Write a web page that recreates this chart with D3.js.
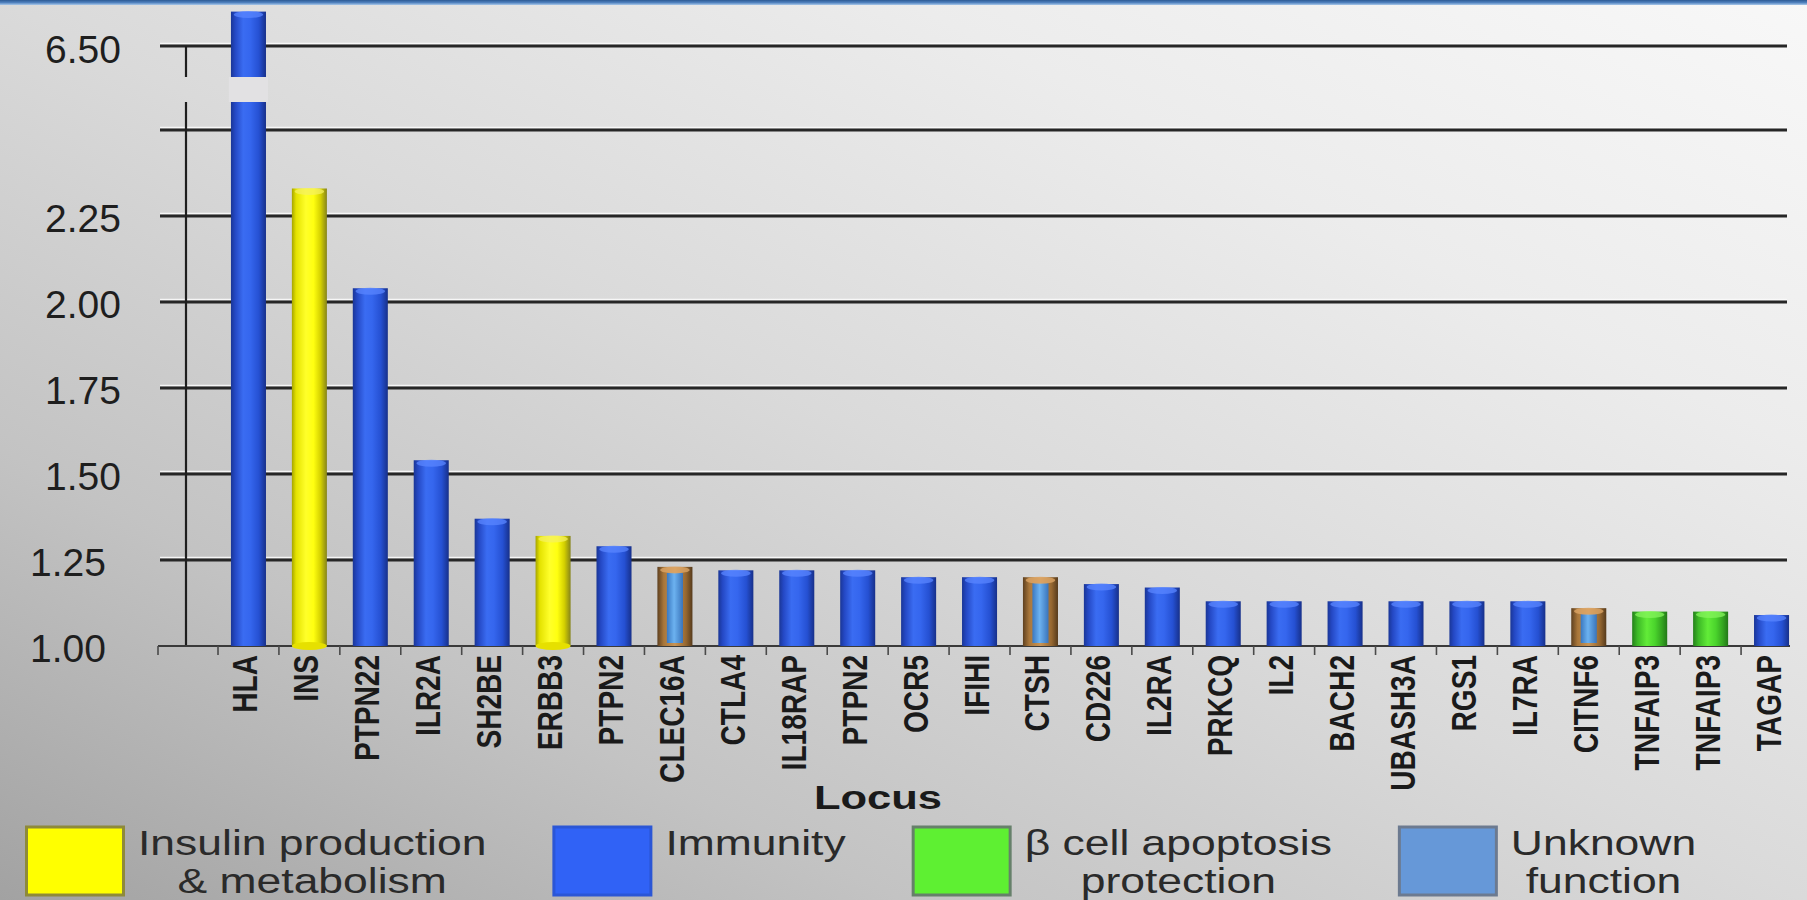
<!DOCTYPE html>
<html>
<head>
<meta charset="utf-8">
<script src="https://cdn.jsdelivr.net/npm/d3@7"></script>
<style>
  html, body { margin: 0; padding: 0; overflow: hidden; background: #d8d8d8; }
  svg { display: block; }
</style>
</head>
<body>
<svg id="chart" width="1807" height="900"></svg>
<script>
// Type 1 diabetes susceptibility loci and their odds ratios
const loci = ["HLA", "INS", "PTPN22", "ILR2A", "SH2BE", "ERBB3", "PTPN2", "CLEC16A",
  "CTLA4", "IL18RAP", "PTPN2", "OCR5", "IFIHI", "CTSH", "CD226", "IL2RA", "PRKCQ",
  "IL2", "BACH2", "UBASH3A", "RGS1", "IL7RA", "CITNF6", "TNFAIP3", "TNFAIP3", "TAGAP"];
const oddsRatios = [6.60, 2.33, 2.04, 1.54, 1.37, 1.32, 1.29, 1.23,
  1.22, 1.22, 1.22, 1.20, 1.20, 1.20, 1.18, 1.17, 1.13,
  1.13, 1.13, 1.13, 1.13, 1.13, 1.11, 1.10, 1.10, 1.09];
const roles = ["imm", "ins", "imm", "imm", "imm", "ins", "imm", "unk",
  "imm", "imm", "imm", "imm", "imm", "unk", "imm", "imm", "imm",
  "imm", "imm", "imm", "imm", "imm", "unk", "beta", "beta", "imm"];

// legend entries
const roleKeys = ["ins", "imm", "beta", "unk"];
const roleNames = [["Insulin production", "& metabolism"], ["Immunity"],
  ["β cell apoptosis", "protection"], ["Unknown", "function"]];

// axis ticks: lower segment, unlabeled line below the break, upper segment
const lowerTicks = [1.00, 1.25, 1.50, 1.75, 2.00, 2.25];
const unlabeledGrid = [2.50];
const upperTicks = [6.50];
const xTitle = "Locus";

const W = 1807, H = 900;
const FONT = "'Liberation Sans', Arial, Helvetica, sans-serif";
const svg = d3.select("#chart");
const defs = svg.append("defs");

function gradient(id, stops, vertical) {
  const g = defs.append("linearGradient").attr("id", id)
    .attr("x1", 0).attr("y1", 0).attr("x2", vertical ? 0 : 1).attr("y2", vertical ? 1 : 0);
  stops.forEach(([o, c]) => g.append("stop").attr("offset", o).attr("stop-color", c));
  return g;
}

// page background: light at the top right, darker toward the bottom left
defs.append("linearGradient").attr("id", "bg")
  .attr("x1", 1).attr("y1", 0).attr("x2", 0).attr("y2", 1)
  .selectAll("stop")
  .data([[0, "#f8f8f8"], [0.25, "#ececec"], [0.5, "#dadada"], [0.75, "#c3c3c3"], [1, "#a2a2a2"]])
  .join("stop").attr("offset", d => d[0]).attr("stop-color", d => d[1]);
svg.append("rect").attr("width", W).attr("height", H).attr("fill", "url(#bg)");

gradient("topband", [[0, "#2c5a94"], [0.5, "#4f80bd"], [1, "#a8c8ea"]], true);
svg.append("rect").attr("width", W).attr("height", 5).attr("fill", "url(#topband)");

// cylinder-like shading for each functional group
gradient("bar-imm", [[0, "#1a3696"], [0.12, "#2448c4"], [0.35, "#3a6cf2"], [0.55, "#3566ee"], [0.8, "#2550d2"], [1, "#17308a"]]);
gradient("bar-ins", [[0, "#a6a400"], [0.12, "#e4e200"], [0.4, "#ffff2a"], [0.62, "#ffff10"], [0.82, "#d4d000"], [1, "#86841a"]]);
gradient("bar-beta", [[0, "#24801a"], [0.15, "#3cb826"], [0.42, "#62ec38"], [0.65, "#4ad42c"], [0.85, "#34a420"], [1, "#237818"]]);
gradient("bar-unk", [[0, "#5e4020"], [0.18, "#a8763a"], [0.5, "#c89456"], [0.82, "#946630"], [1, "#553a1c"]]);
gradient("bar-unk-in", [[0, "#3a78c0"], [0.45, "#6cb2f0"], [1, "#3a74ba"]]);

const capColor = { imm: "#5a86ff", ins: "#f4f060", beta: "#86f45c", unk: "#e0a868" };

// vertical scale with a break between the lower and upper segments
const baseY = 646, lowTopY = 130, upperY = 46;
const breakTop = 77, breakBottom = 102;
const yLow = d3.scaleLinear().domain([1.0, 2.5]).range([baseY, lowTopY]);
const pxPerUnit = (baseY - lowTopY) / 1.5;
const yHigh = d3.scaleLinear().domain([6.5, 7.0]).range([upperY, upperY - pxPerUnit * 0.5]);
const breakValue = 4;
const y = v => (v > breakValue ? yHigh(v) : yLow(v));

const x = d3.scaleBand().domain(d3.range(loci.length))
  .range([218, 1802]).paddingInner(0.425).paddingOuter(0.2125);

const axisX = 186, gridLeft = 160, gridRight = 1787;

// horizontal gridlines with a soft highlight above each
const gridVals = lowerTicks.filter(v => v > 1).concat(unlabeledGrid).concat(upperTicks);
const grid = svg.append("g");
grid.selectAll("line.hl").data(gridVals).join("line").attr("class", "hl")
  .attr("x1", gridLeft).attr("x2", gridRight)
  .attr("y1", d => y(d) - 2.5).attr("y2", d => y(d) - 2.5)
  .attr("stroke", "#fbfbfb").attr("stroke-width", 1.5).attr("opacity", 0.9);
grid.selectAll("line.g").data(gridVals).join("line").attr("class", "g")
  .attr("x1", gridLeft).attr("x2", gridRight)
  .attr("y1", d => y(d)).attr("y2", d => y(d))
  .attr("stroke", "#262626").attr("stroke-width", 2.8);

// y axis line, interrupted at the break
const yAxis = svg.append("g").attr("stroke", "#1e1e1e").attr("stroke-width", 2.2);
yAxis.append("line").attr("x1", axisX).attr("x2", axisX).attr("y1", y(upperTicks[0])).attr("y2", breakTop);
yAxis.append("line").attr("x1", axisX).attr("x2", axisX).attr("y1", breakBottom).attr("y2", baseY);

// x axis baseline and boundary ticks
const xAxis = svg.append("g");
xAxis.append("line").attr("x1", 158).attr("x2", 1790).attr("y1", baseY).attr("y2", baseY)
  .attr("stroke", "#3a3a3a").attr("stroke-width", 2.2);
const boundaries = [158].concat(d3.range(loci.length).map(i => x(i) - x.step() * x.paddingInner() / 2));
xAxis.selectAll("line.tick").data(boundaries).join("line").attr("class", "tick")
  .attr("x1", d => d).attr("x2", d => d).attr("y1", baseY).attr("y2", baseY + 9)
  .attr("stroke", "#4a4a4a").attr("stroke-width", 1.6);

// bars
const bars = svg.append("g").selectAll("g").data(oddsRatios).join("g");
bars.each(function (v, i) {
  const g = d3.select(this);
  const role = roles[i];
  const x0 = x(i), w = x.bandwidth();
  const top = y(v), h = baseY - top;
  g.append("rect").attr("x", x0).attr("y", top).attr("width", w).attr("height", h)
    .attr("fill", `url(#bar-${role})`);
  if (role === "unk") {
    g.append("rect").attr("x", x0 + w * 0.27).attr("y", top + 6)
      .attr("width", w * 0.46).attr("height", Math.max(0, h - 9))
      .attr("fill", "url(#bar-unk-in)");
  }
  g.append("ellipse").attr("cx", x0 + w * 0.5).attr("cy", top + 3)
    .attr("rx", w * 0.42).attr("ry", 3.5).attr("fill", capColor[role]).attr("opacity", 0.75);
  if (role === "ins") {
    g.append("ellipse").attr("cx", x0 + w * 0.5).attr("cy", baseY)
      .attr("rx", w * 0.5).attr("ry", 4).attr("fill", "#e6e000");
  }
  // bars that run past the break get a gap cut through them
  if (v > breakValue) {
    g.append("rect").attr("x", x0 - 2).attr("y", breakTop).attr("width", w + 4)
      .attr("height", breakBottom - breakTop).attr("fill", "#e2e1e3");
  }
});

// y tick labels
const yLabels = svg.append("g").style("font", `39px ${FONT}`).attr("fill", "#1e1e1e")
  .attr("text-anchor", "end");
yLabels.selectAll("text.low").data(lowerTicks).join("text").attr("class", "low")
  .attr("x", d => (d < 1.3 ? 106 : 121)).attr("y", d => yLow(d) + 16)
  .text(d => d3.format(".2f")(d));
yLabels.selectAll("text.up").data(upperTicks).join("text").attr("class", "up")
  .attr("x", 121).attr("y", d => yHigh(d) + 17)
  .text(d => d3.format(".2f")(d));

// rotated locus names
svg.append("g").selectAll("text").data(loci).join("text")
  .attr("transform", (d, i) => `translate(${x(i) + x.bandwidth() / 2 + 9},655) rotate(-90) scale(0.78,1)`)
  .attr("text-anchor", "end")
  .style("font", `bold 36px ${FONT}`).attr("fill", "#1a1a1a")
  .text(d => d);

// x axis title
svg.append("text").attr("transform", "translate(878,809) scale(1.28,1)")
  .attr("text-anchor", "middle").style("font", `bold 34px ${FONT}`).attr("fill", "#1a1a1a")
  .text(xTitle);

// legend, laid out left to right
const swatchFill = { ins: "#ffff00", imm: "#3062f6", beta: "#5ef032", unk: "#6698d8" };
const swatchStroke = { ins: "#8e8a3a", imm: "#2b56d6", beta: "#66806a", unk: "#6c7a90" };
const legend = svg.append("g");
const textScale = 1.27;
let cursor = 25;
roleKeys.forEach((k, i) => {
  const item = legend.append("g");
  item.append("rect").attr("x", cursor + 1.5).attr("y", 827).attr("width", 97).attr("height", 68)
    .attr("fill", swatchFill[k]).attr("stroke", swatchStroke[k]).attr("stroke-width", 3);
  const tx = cursor + 100 + 13;
  const tg = item.append("g").attr("transform", `translate(${tx},0) scale(${textScale},1)`);
  const texts = roleNames[i].map((line, j) => tg.append("text")
    .attr("y", 855 + j * 38).style("font", `35px ${FONT}`).attr("fill", "#2a2a2a").text(line));
  const lens = texts.map(t => t.node().getComputedTextLength());
  const blockW = d3.max(lens);
  texts.forEach((t, j) => t.attr("x", (blockW - lens[j]) / 2));
  cursor = tx + blockW * textScale + 66;
});
</script>
</body>
</html>
